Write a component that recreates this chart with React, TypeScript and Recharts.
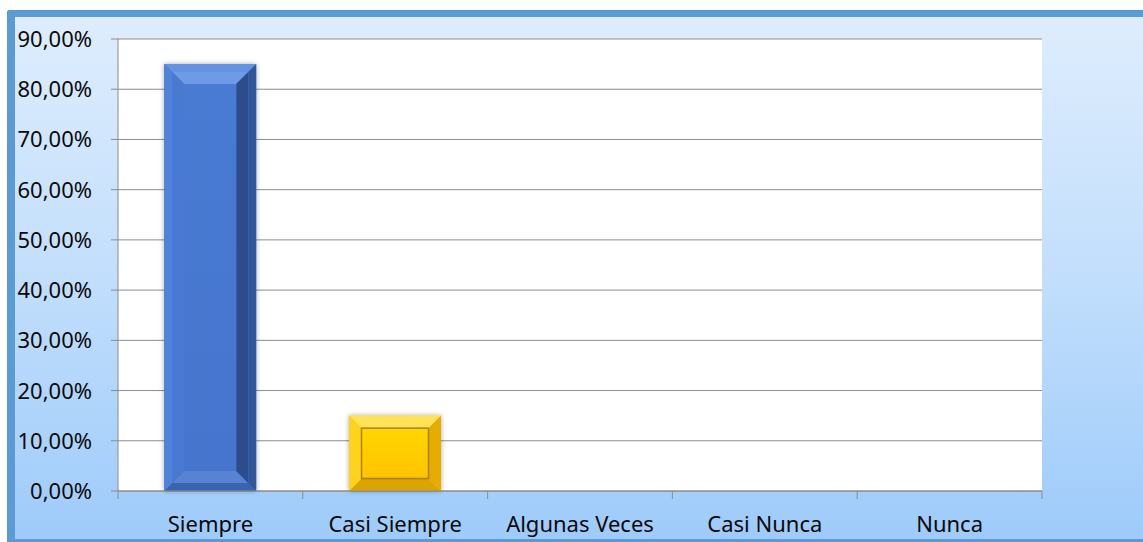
import React from 'react';
import { BarChart, Bar, XAxis, YAxis, CartesianGrid } from 'recharts';

const categories = ['Siempre', 'Casi Siempre', 'Algunas Veces', 'Casi Nunca', 'Nunca'];
const percentages = [85, 15, 0, 0, 0];
const yTicks = [0, 10, 20, 30, 40, 50, 60, 70, 80, 90];

const data = categories.map((name, i) => ({ name, value: percentages[i] }));

const FONT = '"Noto Sans", "Open Sans", sans-serif';
const GRID = '#8c8c8c';

type Pal = {
  ob: number;
  ib: number;
  base: string;
  oTop: string;
  oLeft: string;
  oRight: string;
  oBottom: string;
  iTop: string;
  iLeft: string;
  iRight: string;
  iBottom: string;
  faceA: string;
  faceB: string;
  outline?: string;
};

const palettes: Pal[] = [
  {
    ob: 8,
    ib: 12,
    base: '#4a7bd2',
    oTop: '#6593e2',
    oLeft: '#4f82d8',
    oRight: '#30579c',
    oBottom: '#3a64b0',
    iTop: '#6f9be6',
    iLeft: '#4a7ad0',
    iRight: '#2c4d8a',
    iBottom: '#5883d3',
    faceA: '#4a7bd2',
    faceB: '#4575cc',
  },
  {
    ob: 12,
    ib: 0,
    base: '#ffc800',
    oTop: '#ffe25a',
    oLeft: '#ffd21e',
    oRight: '#e6ad00',
    oBottom: '#dca400',
    iTop: '#ffd700',
    iLeft: '#ffd700',
    iRight: '#ffd700',
    iBottom: '#ffd700',
    faceA: '#ffd600',
    faceB: '#ffc300',
    outline: '#8a6d00',
  },
];

const bevel = (X: number, Y: number, W: number, H: number, d: number, c: { t: string; l: string; r: string; b: string }) => (
  <g>
    <polygon points={`${X},${Y} ${X + W},${Y} ${X + W - d},${Y + d} ${X + d},${Y + d}`} fill={c.t} />
    <polygon points={`${X},${Y + H} ${X + W},${Y + H} ${X + W - d},${Y + H - d} ${X + d},${Y + H - d}`} fill={c.b} />
    <polygon points={`${X},${Y} ${X + d},${Y + d} ${X + d},${Y + H - d} ${X},${Y + H}`} fill={c.l} />
    <polygon points={`${X + W},${Y} ${X + W - d},${Y + d} ${X + W - d},${Y + H - d} ${X + W},${Y + H}`} fill={c.r} />
  </g>
);

const BevelBar = (props: any) => {
  const { x, y, width, height, index } = props;
  if (!height || height <= 0) return null;
  const p = palettes[index % palettes.length];
  const fid = `shadow-${index}`;
  const gid = `face-${index}`;
  const ob = Math.min(p.ob, width / 4, height / 4);
  const ix = x + ob;
  const iy = y + ob;
  const iw = width - 2 * ob;
  const ih = height - 2 * ob;
  const ib = Math.min(p.ib, iw / 4, ih / 4);
  return (
    <g>
      <defs>
        <filter id={fid} x="-20%" y="-20%" width="140%" height="140%">
          <feDropShadow dx="0" dy="0" stdDeviation="2.5" floodColor="#000" floodOpacity="0.35" />
        </filter>
        <linearGradient id={gid} x1="0" y1="0" x2="0" y2="1">
          <stop offset="0%" stopColor={p.faceA} />
          <stop offset="100%" stopColor={p.faceB} />
        </linearGradient>
      </defs>
      <rect x={x} y={y} width={width} height={height} fill={p.base} filter={`url(#${fid})`} />
      {bevel(x, y, width, height, ob, { t: p.oTop, l: p.oLeft, r: p.oRight, b: p.oBottom })}
      <rect x={ix} y={iy} width={iw} height={ih} fill={`url(#${gid})`} />
      {ib > 0 && bevel(ix, iy, iw, ih, ib, { t: p.iTop, l: p.iLeft, r: p.iRight, b: p.iBottom })}
      {ib > 0 && <rect x={ix + ib} y={iy + ib} width={iw - 2 * ib} height={ih - 2 * ib} fill={`url(#${gid})`} />}
      {p.outline && (
        <rect x={ix + 0.5} y={iy + 0.5} width={iw - 1} height={ih - 1} fill="none" stroke={p.outline} strokeOpacity={0.75} strokeWidth={1.5} />
      )}
    </g>
  );
};

const XTick = (props: any) => {
  const { x, y, payload, index } = props;
  const off = payload && typeof payload.offset === 'number' && payload.offset > 0 ? payload.offset : 92.4;
  const last = index === categories.length - 1;
  return (
    <g>
      <line x1={x - off} y1={y} x2={x - off} y2={y + 8} stroke={GRID} strokeWidth={1} />
      {last && <line x1={x + off} y1={y} x2={x + off} y2={y + 8} stroke={GRID} strokeWidth={1} />}
      <text x={x} y={y + 41} textAnchor="middle" fontFamily={FONT} fontSize={22} fill="#0a0a0a">
        {payload.value}
      </text>
    </g>
  );
};

const YTick = (props: any) => {
  const { y, payload } = props;
  return (
    <text x={92} y={y + 8} textAnchor="end" fontFamily={FONT} fontSize={22} fill="#0a0a0a">
      {`${payload.value},00%`}
    </text>
  );
};

export default function App() {
  return (
    <div style={{ position: 'fixed', left: 0, top: 0, width: 1143, height: 542, background: '#fff', overflow: 'hidden' }}>
      <div
        style={{
          position: 'absolute',
          left: 7,
          top: 10,
          width: 1140,
          height: 532,
          boxSizing: 'border-box',
          borderTop: '7px solid #5b9bd5',
          borderLeft: '8px solid #5b9bd5',
          borderBottom: '3px solid #5b9bd5',
          borderTopLeftRadius: 3,
          background: 'linear-gradient(180deg, #deedfd 0%, #c5e0fc 45%, #9ecbfa 100%)',
        }}
      />
      <div style={{ position: 'absolute', left: 0, top: 0 }}>
        <BarChart
          width={1143}
          height={542}
          data={data}
          margin={{ top: 39, right: 101, bottom: 0, left: 0 }}
          barCategoryGap="25%"
        >
          <CartesianGrid vertical={false} stroke={GRID} fill="#ffffff" fillOpacity={1} />
          <XAxis
            dataKey="name"
            height={51}
            axisLine={{ stroke: GRID }}
            tickLine={false}
            tickSize={0}
            tickMargin={0}
            interval={0}
            tick={<XTick />}
          />
          <YAxis
            width={118}
            domain={[0, 90]}
            ticks={yTicks}
            interval={0}
            axisLine={{ stroke: GRID }}
            tickLine={{ stroke: GRID }}
            tickSize={7}
            tick={<YTick />}
          />
          <Bar dataKey="value" shape={<BevelBar />} isAnimationActive={false} />
        </BarChart>
      </div>
    </div>
  );
}
